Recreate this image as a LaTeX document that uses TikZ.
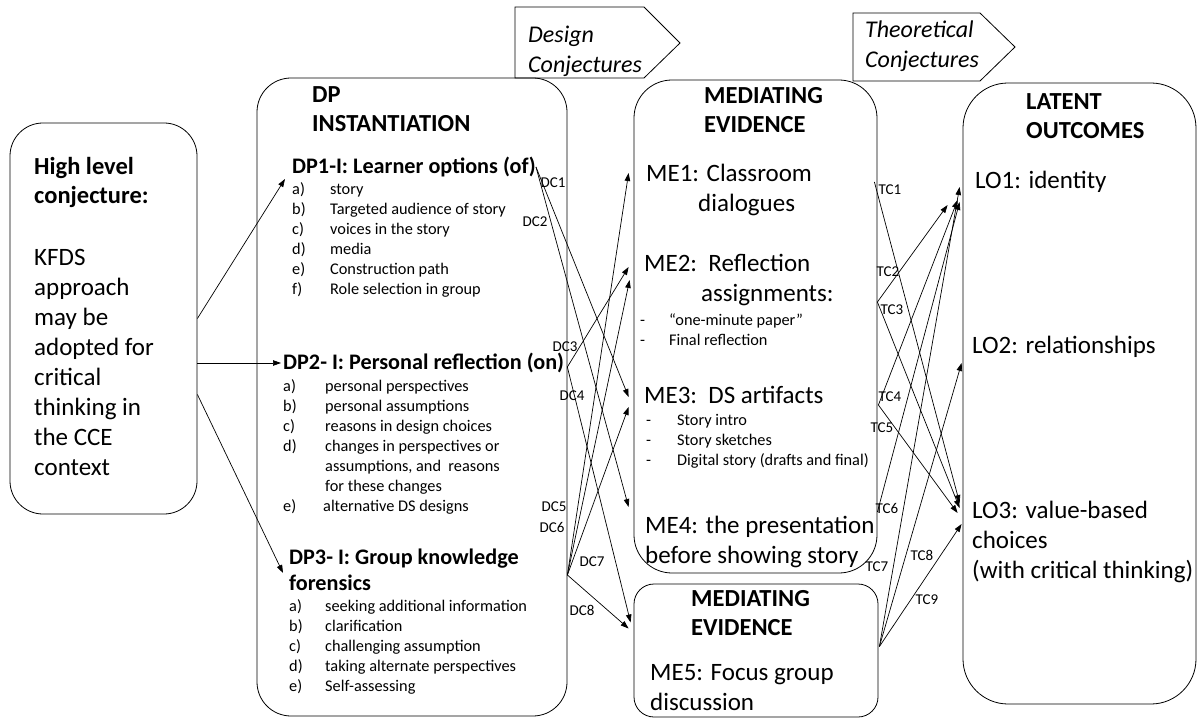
\documentclass[tikz,border=0pt]{standalone}
\usepackage{fontspec}
\setmainfont{Carlito}
\usetikzlibrary{arrows.meta,calc}
\newcommand{\ditem}[2]{\makebox[#1][l]{#2}}

\begin{document}
\begin{tikzpicture}[
    x=1pt, y=-1pt,
    panel/.style={rectangle, draw, line width=0.8pt, rounded corners=#1, inner sep=0},
    panel/.default=34,
    banner/.style={draw, line width=0.8pt},
    bannertext/.style={font={\itshape\fontsize{24}{30}\selectfont}, align=left, anchor=west, inner sep=0},
    title/.style={font={\bfseries\fontsize{24.5}{29}\selectfont}, align=left, anchor=west, inner sep=0},
    heading/.style={font={\bfseries\fontsize{22.2}{26}\selectfont}, align=left, anchor=west, inner sep=0},
    body/.style={font={\fontsize{25}{30}\selectfont}, align=left, anchor=west, inner sep=0},
    items/.style={font={\fontsize{16.3}{20}\selectfont}, align=left, anchor=west, inner sep=0},
    lbl/.style={font={\fontsize{15}{15}\selectfont}, inner sep=0},
    arrow/.style={-{Triangle[length=8pt,width=5.5pt]}, line width=0.7pt}
]
    \useasboundingbox (0,0) rectangle (1197,719);
    % Banners
    \draw[banner] (515,7) -- (644,7) -- (680,43) -- (644,78) -- (515,78) -- cycle;
    \draw[banner] (853,13) -- (980,13) -- (1015,47) -- (980,81) -- (853,81) -- cycle;
    \node[bannertext] (dctext) at (528,51) {Design\\Conjectures};
    \node[bannertext] (tctext) at (865,46) {Theoretical\\Conjectures};
    % Boxes
    \node[panel=33, minimum width=187, minimum height=391] (hlc) at (103.5,318.5) {};
    \node[panel=34, minimum width=310, minimum height=638] (dp) at (412,397) {};
    \node[panel=38, minimum width=243, minimum height=493] (me) at (755.5,326.5) {};
    \node[panel=20, minimum width=244, minimum height=133] (mefg) at (756,650.5) {};
    \node[panel=45, minimum width=233, minimum height=621] (lo) at (1079.5,393.5) {};
    % High level conjecture
    \node[title] (hlctitle) at (34,182) {High level\\conjecture:};
    \node[body] (hlcbody) at (34,362.5) {KFDS\\approach\\may be\\adopted for\\critical\\thinking in\\the CCE\\context};
    % DP instantiation
    \node[title] (dptitle) at (312,109) {DP\\INSTANTIATION};
    \node[heading] (dp1) at (292,167) {DP1-I: Learner options (of)};
    \node[items] (dp1list) at (292,240) {\ditem{38pt}{a)}story\\\ditem{38pt}{b)}Targeted audience of story\\\ditem{38pt}{c)}voices in the story\\\ditem{38pt}{d)}media\\\ditem{38pt}{e)}Construction path\\\ditem{38pt}{f)}Role selection in group};
    \node[heading] (dp2) at (283,363) {DP2- I: Personal reflection (on)};
    \node[items] (dp2list) at (283,447) {\ditem{42pt}{a)}personal perspectives\\\ditem{42pt}{b)}personal assumptions\\\ditem{42pt}{c)}reasons in design choices\\\ditem{42pt}{d)}changes in perspectives or\\\hspace*{42pt}assumptions, and\ \ reasons\\\hspace*{42pt}for these changes\\\ditem{40pt}{e)}alternative DS designs};
    \node[heading] (dp3) at (289,570) {DP3- I: Group knowledge\\forensics};
    \node[items] (dp3list) at (289,646.5) {\ditem{36pt}{a)}seeking additional information\\\ditem{36pt}{b)}clarification\\\ditem{36pt}{c)}challenging assumption\\\ditem{36pt}{d)}taking alternate perspectives\\\ditem{36pt}{e)}Self-assessing};
    % Mediating evidence
    \node[title] (metitle) at (704,110.5) {MEDIATING\\EVIDENCE};
    \node[body] (me1) at (646,190) {ME1: Classroom\\\hspace*{52pt}dialogues};
    \node[body] (me2) at (644,280) {ME2:\ \ Reflection\\\hspace*{57pt}assignments:};
    \node[items] (me2list) at (640,330) {\ditem{29pt}{-}“one-minute paper”\\\ditem{29pt}{-}Final reflection};
    \node[body] (me3) at (644,395) {ME3:\ \ DS artifacts};
    \node[items] (me3list) at (646,441) {\ditem{31pt}{-}Story intro\\\ditem{31pt}{-}Story sketches\\\ditem{31pt}{-}Digital story (drafts and final)};
    \node[body] (me4) at (645,542) {ME4: the presentation\\before showing story};
    \node[title] (mefgtitle) at (691,613) {MEDIATING\\EVIDENCE};
    \node[body] (me5) at (650,687.5) {ME5: Focus group\\discussion};
    % Latent outcomes
    \node[title] (lotitle) at (1026,116) {LATENT\\OUTCOMES};
    \node[body] (lo1) at (975,182) {LO1: identity};
    \node[body] (lo2) at (972,347) {LO2: relationships};
    \node[body] (lo3) at (972,542) {LO3: value-based\\choices\\(with critical thinking)};
    % Arrows to design principles
    \draw[arrow] (hlc.east) -- ($(dp1.west)+(-7,12)$);
    \draw[arrow] (hlc.east |- dp2) -- ($(dp2.west)+(-2,0)$);
    \draw[arrow] ($(hlc.east)+(0,76)$) -- ($(dp3.west)+(-6,3)$);
    % Design conjectures
    \coordinate (dp2out) at ($(dp2.east)+(3,4)$);
    \coordinate (dp3out) at ($(dp.east |- dp3)+(0,5)$);
    \draw[arrow] (dp1.east) -- ($(me.west |- me3)+(-5,2)$);
    \draw[arrow] (dp1.east) -- ($(me.west |- me4)+(-5,-35)$);
    \draw[arrow] (dp2out) -- ($(me.west |- me2)+(-5,-13)$);
    \draw[arrow] (dp2out) -- ($(mefg.west)+(-3,-28)$);
    \draw[arrow] (dp3out) -- ($(me.west |- me1)+(-5,-17)$);
    \draw[arrow] (dp3out) -- ($(me.west |- me2)+(-4,0)$);
    \draw[arrow] (dp3out) -- ($(me.west |- me3)+(-5,12)$);
    \draw[arrow] (dp3out) -- ($(mefg.west)+(-5,-22)$);
    \node[lbl] (dc1) at (553,183) {DC1};
    \node[lbl] (dc2) at (535,222) {DC2};
    \node[lbl] (dc3) at (565,347) {DC3};
    \node[lbl] (dc4) at (572,396) {DC4};
    \node[lbl] (dc5) at (554,507) {DC5};
    \node[lbl] (dc6) at (552,527) {DC6};
    \node[lbl] (dc7) at (592,562) {DC7};
    \node[lbl] (dc8) at (582,610) {DC8};
    % Theoretical conjectures
    \coordinate (me1out) at ($(me.east |- me1)+(-3,-8)$);
    \coordinate (me2out) at ($(me.east |- me2)+(0,22)$);
    \coordinate (me3out) at ($(me.east |- me3)+(1,10)$);
    \coordinate (me4out) at ($(me.east |- me4)+(0,-30)$);
    \coordinate (me5out) at ($(mefg.east)+(1,-4)$);
    \draw[arrow] (me1out) -- ($(lo.west |- lo3)+(-3,-39)$);
    \draw[arrow] (me2out) -- ($(lo.west |- lo1)+(-15,23)$);
    \draw[arrow] (me2out) -- ($(lo.west |- lo3)+(-3,-34)$);
    \draw[arrow] (me3out) -- ($(lo.west |- lo1)+(-5,18)$);
    \draw[arrow] (me3out) -- ($(lo.west |- lo3)+(-5,-29)$);
    \draw[arrow] (me4out) -- ($(lo.west |- lo1)+(-3,20)$);
    \draw[arrow] (me5out) -- ($(lo.west |- lo1)+(-3,5)$);
    \draw[arrow] (me5out) -- ($(lo.west |- lo2)+(-1,16)$);
    \draw[arrow] (me5out) -- ($(lo.west |- lo3)+(-1,-18)$);
    \node[lbl] (tc1) at (890,190) {TC1};
    \node[lbl] (tc2) at (888,272) {TC2};
    \node[lbl] (tc3) at (892,310) {TC3};
    \node[lbl] (tc4) at (890,397) {TC4};
    \node[lbl] (tc5) at (882,428) {TC5};
    \node[lbl] (tc6) at (887,508) {TC6};
    \node[lbl] (tc7) at (877,567) {TC7};
    \node[lbl] (tc8) at (922,555) {TC8};
    \node[lbl] (tc9) at (927,600) {TC9};
\end{tikzpicture}
\end{document}
